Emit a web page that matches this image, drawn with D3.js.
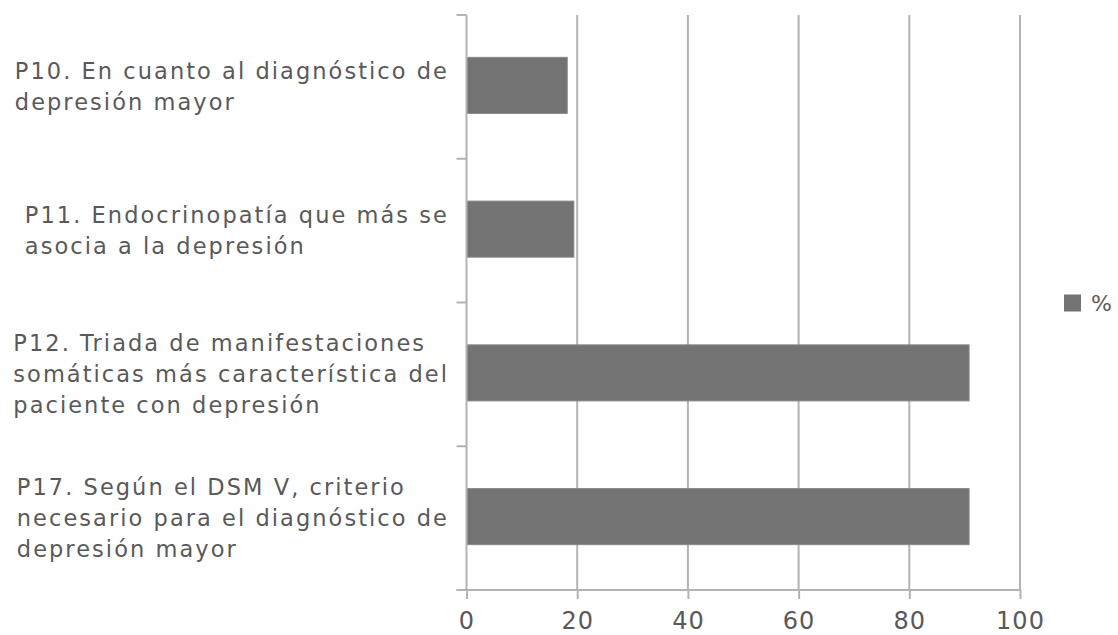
<!DOCTYPE html>
<html>
<head>
<meta charset="utf-8">
<script src="https://cdn.jsdelivr.net/npm/d3@7"></script>
<style>
  body { margin: 0; background: #fff; }
  svg { font-family: "DejaVu Sans", sans-serif; }
</style>
</head>
<body>
<svg id="chart" width="1118" height="635"></svg>
<script>
const categories = ["P10", "P11", "P12", "P17"];
const labels = [
    ["P10. En cuanto al diagnóstico de", "depresión mayor"],
    ["P11. Endocrinopatía que más se", "asocia a la depresión"],
    ["P12. Triada de manifestaciones", "somáticas más característica del", "paciente con depresión"],
    ["P17. Según el DSM V, criterio", "necesario para el diagnóstico de", "depresión mayor"]
];
const values = [18.2, 19.4, 90.8, 90.8];
const xTicks = [0, 20, 40, 60, 80, 100];
const seriesName = "%";

const margin = {top: 15, right: 98, bottom: 45, left: 466.5},
    width = 1118 - margin.left - margin.right,
    height = 635 - margin.top - margin.bottom;

const textColor = "#595959", gridColor = "#b3b3b3", barColor = "#737373";

const svg = d3.select("#chart");
const chart = svg.append("g")
    .attr("transform", `translate(${margin.left}, ${margin.top})`);

const xScale = d3.scaleLinear().domain([0, 100]).range([0, width]);
const yScale = d3.scaleBand().domain(categories).range([0, height])
    .paddingInner(0.61).paddingOuter(0.305);
const step = height / categories.length;

// gridlines
chart.append("g")
    .selectAll("line")
    .data(xTicks.slice(1))
    .enter().append("line")
    .attr("x1", d => xScale(d)).attr("x2", d => xScale(d))
    .attr("y1", 0).attr("y2", height)
    .attr("stroke", gridColor).attr("stroke-width", 2);

// bars
chart.selectAll(".bar")
    .data(categories)
    .enter().append("rect")
    .attr("class", "bar")
    .attr("x", xScale(0))
    .attr("y", d => yScale(d) - 1.5)
    .attr("width", (d, i) => xScale(values[i]) - xScale(0))
    .attr("height", yScale.bandwidth())
    .attr("fill", barColor)
    .attr("stroke", "#888")
    .attr("stroke-width", 1);

// y axis (band boundaries)
const yAxisG = chart.append("g");
yAxisG.append("line")
    .attr("x1", 0).attr("x2", 0).attr("y1", 0).attr("y2", height)
    .attr("stroke", gridColor).attr("stroke-width", 2);
yAxisG.selectAll(".ytick")
    .data(d3.range(categories.length + 1))
    .enter().append("line")
    .attr("x1", -10).attr("x2", 0)
    .attr("y1", i => i * step).attr("y2", i => i * step)
    .attr("stroke", gridColor).attr("stroke-width", 2);

// x axis
const xAxis = d3.axisBottom(xScale).tickValues(xTicks).tickSize(9).tickPadding(13);
const xAxisG = chart.append("g")
    .attr("transform", `translate(0, ${height})`)
    .call(xAxis);
xAxisG.select(".domain").remove();
xAxisG.append("line")
    .attr("x1", -10).attr("x2", width).attr("y1", 0).attr("y2", 0)
    .attr("stroke", gridColor).attr("stroke-width", 2);
xAxisG.selectAll(".tick line").attr("stroke", gridColor).attr("stroke-width", 2);
xAxisG.selectAll(".tick text")
    .attr("fill", textColor)
    .attr("font-size", 24)
    .attr("letter-spacing", 1)
    .attr("font-family", "DejaVu Sans");

// category labels: block left-aligned, right edge at ~447
const lineH = 31;
const labelRight = 449;
labels.forEach((lines, i) => {
    const cy = margin.top + yScale(categories[i]) + yScale.bandwidth() / 2;
    const g = svg.append("g");
    const texts = lines.map((t, j) => g.append("text")
        .attr("y", cy + (j - (lines.length - 1) / 2) * lineH)
        .attr("dy", "0.35em")
        .attr("font-size", 22.5)
        .attr("letter-spacing", 2.05)
        .attr("fill", textColor)
        .text(t));
    const maxW = d3.max(texts, t => t.node().getBBox().width);
    texts.forEach(t => t.attr("x", labelRight - maxW));
});

// legend
const legend = svg.append("g")
    .attr("transform", `translate(1064, ${margin.top + height / 2 - 8})`);
legend.append("rect")
    .attr("width", 17).attr("height", 17)
    .attr("fill", barColor);
legend.append("text")
    .attr("x", 27).attr("y", 8.5).attr("dy", "0.35em")
    .attr("font-size", 22)
    .attr("letter-spacing", 1)
    .attr("fill", textColor)
    .text(seriesName);
</script>
</body>
</html>
